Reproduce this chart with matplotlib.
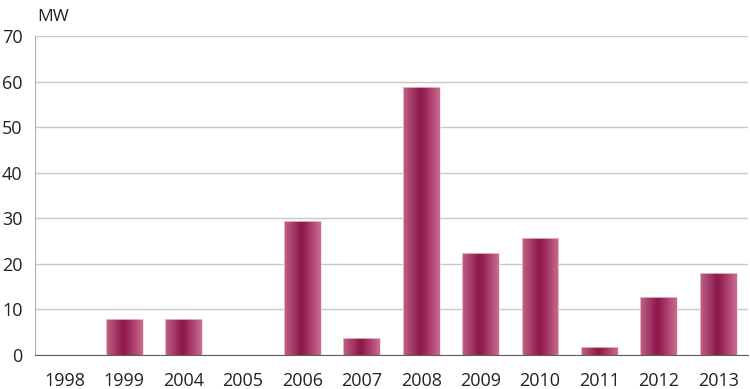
import matplotlib
matplotlib.use("Agg")
import matplotlib.pyplot as plt
import numpy as np
from matplotlib.colors import LinearSegmentedColormap
from matplotlib.patches import Rectangle

years = ["1998", "1999", "2004", "2005", "2006", "2007", "2008", "2009", "2010", "2011", "2012", "2013"]
mw = [0, 7.8, 7.8, 0, 29.5, 3.8, 58.7, 22.4, 25.6, 1.8, 12.8, 17.9]
yticks = [0, 10, 20, 30, 40, 50, 60, 70]

plt.rcParams['font.family'] = ['Open Sans', 'DejaVu Sans']

fig = plt.figure(figsize=(7.5, 3.89), dpi=100)
ax = fig.add_axes([35/750, 1-355/389, 713/750, (355-36)/389])

x = np.arange(len(years))
width = 0.62
bars = ax.bar(x, mw, width=width, color='none', edgecolor='#f6dccb', linewidth=0.5, zorder=3)

cmap = LinearSegmentedColormap.from_list(
    'g', [(0.0, '#c2628a'), (0.45, '#8c1a4c'), (0.55, '#951f52'), (1.0, '#c96d93')])
grad = np.linspace(0, 1, 256).reshape(1, -1)
for b in bars:
    h = b.get_height()
    if h <= 0:
        continue
    x0 = b.get_x()
    im = ax.imshow(grad, cmap=cmap, aspect='auto',
                   extent=[x0, x0 + b.get_width(), 0, h], zorder=2)
    im.set_clip_path(Rectangle((x0, 0), b.get_width(), h, transform=ax.transData))

ax.set_xlim(-0.5, len(years) - 0.5)
ax.set_ylim(0, 70)
ax.set_yticks(yticks)
ax.set_xticks(x)
ax.set_xticklabels(years)
ax.yaxis.grid(True, color='#c8c8c8', linewidth=1.0, zorder=0)
ax.set_axisbelow(True)
for s in ['top', 'right']:
    ax.spines[s].set_visible(False)
ax.spines['left'].set_color('#b0b0b0')
ax.spines['bottom'].set_color('#606060')
ax.tick_params(axis='both', length=0, labelsize=13, colors='#222222')
ax.tick_params(axis='x', pad=12)
ax.tick_params(axis='y', pad=9)
fig.text(37/750, 1-17/389, 'MW', fontsize=12.5, color='#222222', va='center', ha='left')

fig.savefig('out.png', dpi=100)
